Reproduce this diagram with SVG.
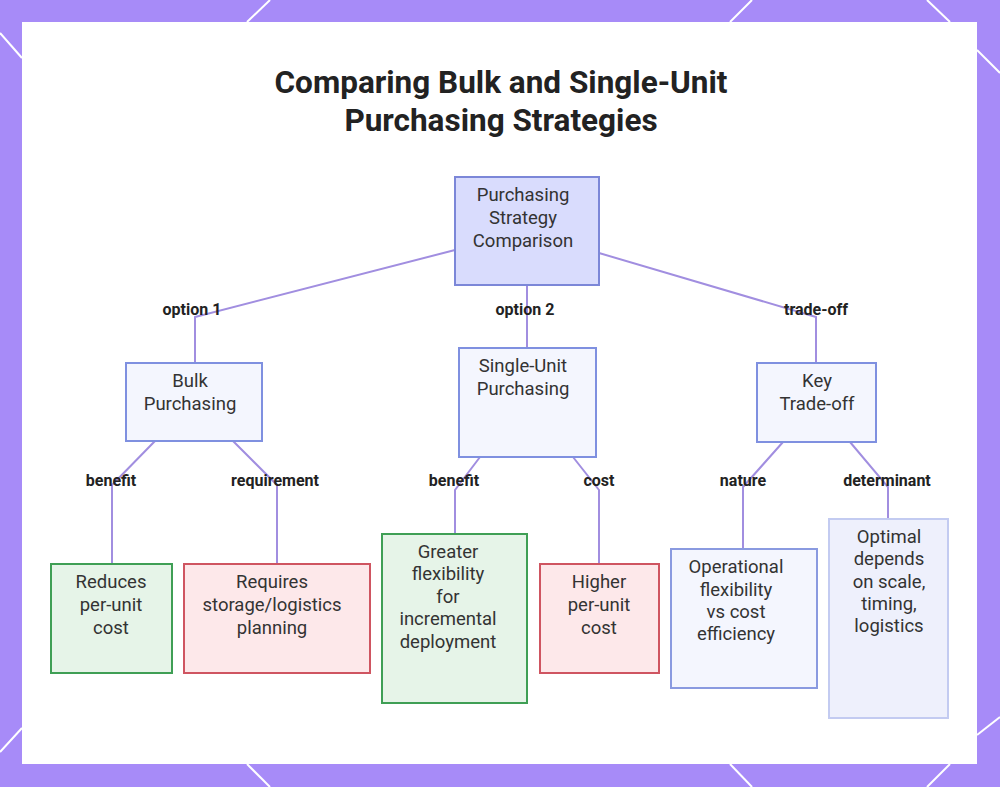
<svg xmlns="http://www.w3.org/2000/svg" width="1000" height="787" viewBox="0 0 1000 787">
<style>
.bg{fill:#a78bf8}
.deco{stroke:#ffffff;stroke-width:2;fill:none}
.title{font-family:Roboto,"Liberation Sans",sans-serif;font-weight:700;font-size:31.5px;fill:#222222;text-anchor:middle}
.t{font-family:Roboto,"Liberation Sans",sans-serif;font-size:18.5px;fill:#333333;text-anchor:middle}
.lbl{font-family:Roboto,"Liberation Sans",sans-serif;font-weight:700;font-size:16px;fill:#222222;text-anchor:middle}
.edge{stroke:#a18ee0;stroke-width:2;fill:none}
.root{fill:#d9dcfd;stroke:#7c87d8;stroke-width:2}
.mid{fill:#f4f6fe;stroke:#7f90e0;stroke-width:2}
.good{fill:#e6f4e8;stroke:#3f9f55;stroke-width:2}
.bad{fill:#fde8ea;stroke:#cf5561;stroke-width:2}
.info{fill:#f4f6fe;stroke:#8a9ae0;stroke-width:2}
.info2{fill:#eef0fc;stroke:#c3cbf1;stroke-width:2}
</style>
<rect class="bg" x="0" y="0" width="1000" height="787"/>
<g class="deco">
<line x1="0" y1="33" x2="22" y2="58"/>
<line x1="247" y1="22" x2="270" y2="0"/>
<line x1="730" y1="22" x2="752" y2="0"/>
<line x1="927" y1="0" x2="950" y2="22"/>
<line x1="977" y1="50" x2="1000" y2="73"/>
<line x1="0" y1="752" x2="22" y2="728"/>
<line x1="247" y1="764" x2="270" y2="787"/>
<line x1="730" y1="764" x2="752" y2="787"/>
<line x1="927" y1="787" x2="950" y2="764"/>
<line x1="977" y1="735" x2="1000" y2="717"/>
</g>
<rect x="22" y="22" width="955" height="742" fill="#ffffff"/>
<text class="title" x="501" y="93">Comparing Bulk and Single-Unit</text>
<text class="title" x="501" y="131">Purchasing Strategies</text>
<g id="connectors">
<polyline class="edge" points="455,250 195,317 195,363"/>
<polyline class="edge" points="527,285 527,348"/>
<polyline class="edge" points="599,253 816,317 816,363"/>
<polyline class="edge" points="155,441 112,485 112,564"/>
<polyline class="edge" points="233,441 277,485 277,564"/>
<polyline class="edge" points="480,457 455,490 455,534"/>
<polyline class="edge" points="573,457 599,490 599,564"/>
<polyline class="edge" points="783,442 743,487 743,549"/>
<polyline class="edge" points="850,442 888,487 888,519"/>
<text class="lbl" x="192" y="315">option 1</text>
<text class="lbl" x="525" y="315">option 2</text>
<text class="lbl" x="816" y="315">trade-off</text>
<text class="lbl" x="111" y="486">benefit</text>
<text class="lbl" x="275" y="486">requirement</text>
<text class="lbl" x="454" y="486">benefit</text>
<text class="lbl" x="599" y="486">cost</text>
<text class="lbl" x="743" y="486">nature</text>
<text class="lbl" x="887" y="486">determinant</text>
</g>
<g id="root">
<rect class="root" x="455" y="177" width="144" height="108"/>
<text class="t" x="523" y="201">Purchasing</text>
<text class="t" x="523" y="224">Strategy</text>
<text class="t" x="523" y="247">Comparison</text>
</g>
<g id="bulk">
<rect class="mid" x="126" y="363" width="136" height="78"/>
<text class="t" x="190" y="387">Bulk</text>
<text class="t" x="190" y="410">Purchasing</text>
</g>
<g id="single">
<rect class="mid" x="459" y="348" width="137" height="109"/>
<text class="t" x="523" y="372">Single-Unit</text>
<text class="t" x="523" y="395">Purchasing</text>
</g>
<g id="tradeoff">
<rect class="mid" x="757" y="363" width="119" height="79"/>
<text class="t" x="817" y="387">Key</text>
<text class="t" x="817" y="410">Trade-off</text>
</g>
<g id="reduces">
<rect class="good" x="51" y="564" width="121" height="109"/>
<text class="t" x="111" y="588">Reduces</text>
<text class="t" x="111" y="611">per-unit</text>
<text class="t" x="111" y="634">cost</text>
</g>
<g id="requires">
<rect class="bad" x="184" y="564" width="186" height="109"/>
<text class="t" x="272" y="588">Requires</text>
<text class="t" x="272" y="611">storage/logistics</text>
<text class="t" x="272" y="634">planning</text>
</g>
<g id="greater">
<rect class="good" x="382" y="534" width="145" height="169"/>
<text class="t" x="448" y="558">Greater</text>
<text class="t" x="448" y="580">flexibility</text>
<text class="t" x="448" y="603">for</text>
<text class="t" x="448" y="625">incremental</text>
<text class="t" x="448" y="648">deployment</text>
</g>
<g id="higher">
<rect class="bad" x="540" y="564" width="119" height="109"/>
<text class="t" x="599" y="588">Higher</text>
<text class="t" x="599" y="611">per-unit</text>
<text class="t" x="599" y="634">cost</text>
</g>
<g id="operational">
<rect class="info" x="671" y="549" width="146" height="139"/>
<text class="t" x="736" y="573">Operational</text>
<text class="t" x="736" y="596">flexibility</text>
<text class="t" x="736" y="618">vs cost</text>
<text class="t" x="736" y="640">efficiency</text>
</g>
<g id="optimal">
<rect class="info2" x="829" y="519" width="119" height="199"/>
<text class="t" x="889" y="543">Optimal</text>
<text class="t" x="889" y="565">depends</text>
<text class="t" x="889" y="588">on scale,</text>
<text class="t" x="889" y="610">timing,</text>
<text class="t" x="889" y="632">logistics</text>
</g>
</svg>
